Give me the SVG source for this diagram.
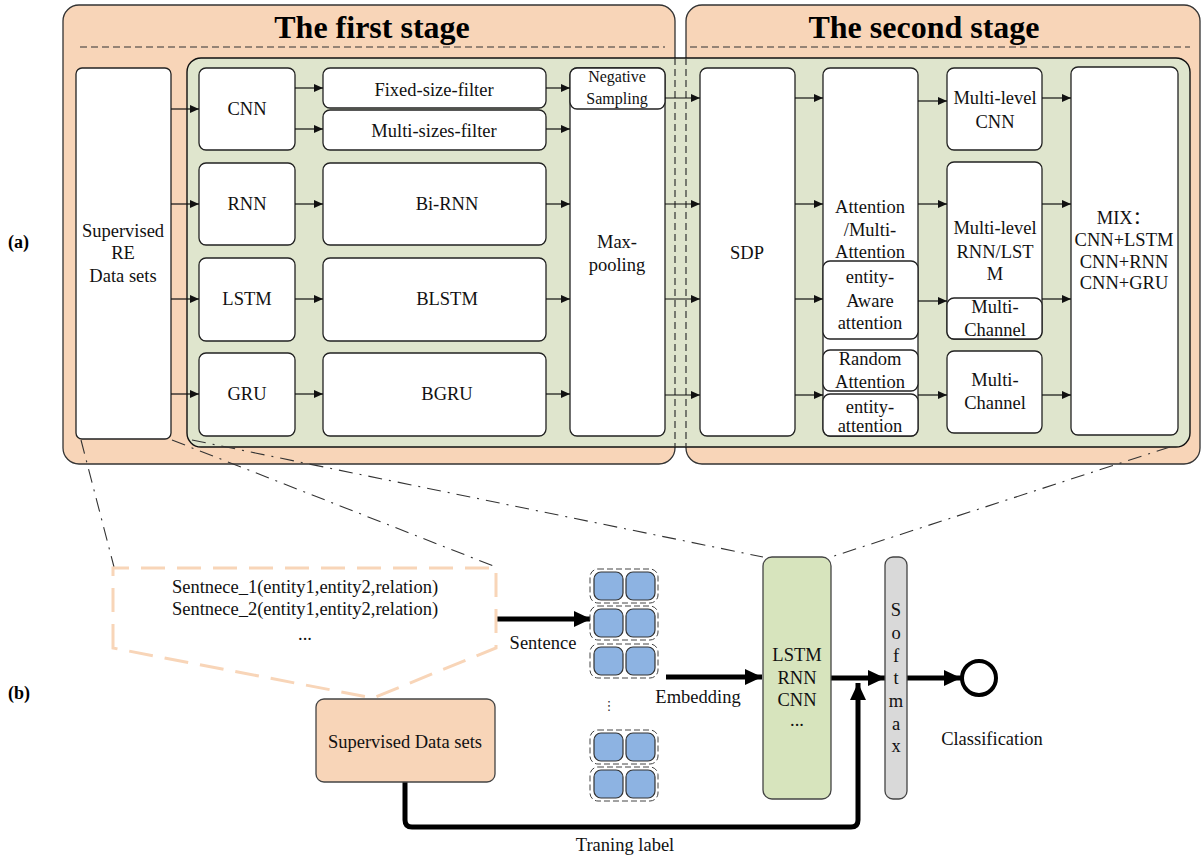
<svg xmlns="http://www.w3.org/2000/svg" width="1202" height="857" viewBox="0 0 1202 857">
<defs>
<style>
.box{fill:#fff;stroke:#222;stroke-width:1.3}
.t{font-family:"Liberation Serif","Times New Roman","Noto Sans CJK SC",serif;font-size:18.5px;fill:#111;text-anchor:middle}
.ts{font-family:"Liberation Serif","Times New Roman",serif;font-size:16px;fill:#111;text-anchor:middle}
.title{font-family:"Liberation Serif","Times New Roman",serif;font-size:32px;font-weight:bold;fill:#000;text-anchor:middle}
.lab{font-family:"Liberation Serif","Times New Roman",serif;font-size:18px;font-weight:bold;fill:#000}
.ln{stroke:#111;stroke-width:1.2;fill:none;marker-end:url(#a)}
.thick{stroke:#000;stroke-width:5;fill:none;marker-end:url(#A)}
.dd{stroke:#333;stroke-width:1.1;fill:none;stroke-dasharray:14 7 2 7}
.dash{stroke:#333;stroke-width:1.2;fill:none;stroke-dasharray:7 4}
.blue{fill:#8db3e2;stroke:#333;stroke-width:1.2}
.row{fill:#fff;stroke:#444;stroke-width:1;stroke-dasharray:6 3}
</style>
<marker id="a" markerUnits="userSpaceOnUse" markerWidth="9" markerHeight="8" refX="9" refY="4" orient="auto"><path d="M0,0 L9,4 L0,8 z" fill="#111"/></marker>
<marker id="A" markerUnits="userSpaceOnUse" markerWidth="17" markerHeight="16" refX="17" refY="8" orient="auto"><path d="M0,0 L17,8 L0,16 z" fill="#000"/></marker>
</defs>
<rect width="1202" height="857" fill="#fff"/>

<g id="stage1">
<rect x="63" y="5" width="612" height="459" rx="16" fill="#f8d5b8" stroke="#333" stroke-width="1.3"/>
<line x1="80" y1="47" x2="665" y2="47" class="dash"/>
<text x="372" y="38" class="title">The first stage</text>
</g>
<g id="stage2">
<rect x="686" y="5" width="514" height="459" rx="16" fill="#f8d5b8" stroke="#333" stroke-width="1.3"/>
<line x1="690" y1="47" x2="1190" y2="47" class="dash"/>
<text x="924" y="38" class="title">The second stage</text>
</g>
<g id="green">
<rect x="187" y="58" width="1003" height="389" rx="14" fill="#dfe5cd" stroke="#111" stroke-width="1.4"/>
<line x1="675" y1="58" x2="675" y2="447" class="dash"/>
<line x1="686" y1="58" x2="686" y2="447" class="dash"/>
</g>

<text x="8" y="248" class="lab">(a)</text>
<text x="8" y="699" class="lab">(b)</text>

<g id="supRE"><rect x="76" y="68" width="95" height="371" rx="6" class="box"/>
<text class="t"><tspan x="123" y="237">Supervised</tspan><tspan x="123" y="259">RE</tspan><tspan x="123" y="282">Data sets</tspan></text></g>

<g id="cnn"><rect x="199" y="68" width="96" height="82" rx="7" class="box"/><text x="247" y="115" class="t">CNN</text></g>
<g id="rnn"><rect x="199" y="163" width="96" height="82" rx="7" class="box"/><text x="247" y="210" class="t">RNN</text></g>
<g id="lstm"><rect x="199" y="258" width="96" height="83" rx="7" class="box"/><text x="247" y="305" class="t">LSTM</text></g>
<g id="gru"><rect x="199" y="353" width="96" height="83" rx="7" class="box"/><text x="247" y="400" class="t">GRU</text></g>

<g id="fixed"><rect x="323" y="68" width="223" height="40" rx="7" class="box"/><text x="434" y="96" class="t">Fixed-size-filter</text></g>
<g id="multisizes"><rect x="323" y="110" width="223" height="40" rx="7" class="box"/><text x="434" y="137" class="t">Multi-sizes-filter</text></g>
<g id="birnn"><rect x="323" y="163" width="223" height="82" rx="7" class="box"/><text x="447" y="210" class="t">Bi-RNN</text></g>
<g id="blstm"><rect x="323" y="258" width="223" height="83" rx="7" class="box"/><text x="447" y="305" class="t">BLSTM</text></g>
<g id="bgru"><rect x="323" y="353" width="223" height="83" rx="7" class="box"/><text x="447" y="400" class="t">BGRU</text></g>

<g id="maxpool"><rect x="570" y="68" width="95" height="368" rx="7" class="box"/>
<text class="t"><tspan x="617" y="248">Max-</tspan><tspan x="617" y="271">pooling</tspan></text></g>
<g id="negsamp"><rect x="570" y="68" width="95" height="41" rx="7" class="box"/>
<text class="ts"><tspan x="617" y="82">Negative</tspan><tspan x="617" y="104">Sampling</tspan></text></g>

<g id="sdp"><rect x="700" y="68" width="95" height="368" rx="7" class="box"/><text x="747" y="259" class="t">SDP</text></g>

<g id="attn"><rect x="823" y="68" width="95" height="368" rx="7" class="box"/>
<text class="t"><tspan x="870" y="213">Attention</tspan><tspan x="870" y="236">/Multi-</tspan><tspan x="870" y="258">Attention</tspan></text></g>
<g id="entityaware"><rect x="823" y="261" width="95" height="78" rx="7" class="box"/>
<text class="t"><tspan x="870" y="283">entity-</tspan><tspan x="870" y="307">Aware</tspan><tspan x="870" y="329">attention</tspan></text></g>
<g id="random"><rect x="823" y="350" width="95" height="41" rx="7" class="box"/>
<text class="t"><tspan x="870" y="365">Random</tspan><tspan x="870" y="388">Attention</tspan></text></g>
<g id="entityatt"><rect x="823" y="394" width="95" height="42" rx="7" class="box"/>
<text class="t"><tspan x="870" y="413">entity-</tspan><tspan x="870" y="432">attention</tspan></text></g>

<g id="mlcnn"><rect x="947" y="68" width="95" height="82" rx="7" class="box"/>
<text class="t"><tspan x="995" y="104">Multi-level</tspan><tspan x="995" y="128">CNN</tspan></text></g>
<g id="mlrnn"><rect x="947" y="162" width="95" height="177" rx="7" class="box"/>
<text class="t"><tspan x="995" y="234">Multi-level</tspan><tspan x="995" y="258">RNN/LST</tspan><tspan x="995" y="280">M</tspan></text></g>
<g id="mc1"><rect x="947" y="298" width="95" height="41" rx="7" class="box"/>
<text class="t"><tspan x="995" y="313">Multi-</tspan><tspan x="995" y="336">Channel</tspan></text></g>
<g id="mc2"><rect x="947" y="351" width="95" height="82" rx="7" class="box"/>
<text class="t"><tspan x="995" y="386">Multi-</tspan><tspan x="995" y="409">Channel</tspan></text></g>

<g id="mix"><rect x="1071" y="67" width="107" height="368" rx="7" class="box"/>
<text class="t"><tspan x="1124" y="224">MIX：</tspan><tspan x="1124" y="246">CNN+LSTM</tspan><tspan x="1124" y="268">CNN+RNN</tspan><tspan x="1124" y="289">CNN+GRU</tspan></text></g>

<g id="connectors">
<line class="ln" x1="171" y1="109" x2="199" y2="109"/>
<line class="ln" x1="171" y1="204" x2="199" y2="204"/>
<line class="ln" x1="171" y1="299" x2="199" y2="299"/>
<line class="ln" x1="171" y1="394" x2="199" y2="394"/>
<line class="ln" x1="295" y1="88" x2="323" y2="88"/>
<line class="ln" x1="295" y1="129" x2="323" y2="129"/>
<line class="ln" x1="295" y1="204" x2="323" y2="204"/>
<line class="ln" x1="295" y1="299" x2="323" y2="299"/>
<line class="ln" x1="295" y1="394" x2="323" y2="394"/>
<line class="ln" x1="546" y1="88" x2="570" y2="88"/>
<line class="ln" x1="546" y1="129" x2="570" y2="129"/>
<line class="ln" x1="546" y1="204" x2="570" y2="204"/>
<line class="ln" x1="546" y1="299" x2="570" y2="299"/>
<line class="ln" x1="546" y1="394" x2="570" y2="394"/>
<line class="ln" x1="665" y1="98" x2="700" y2="98"/>
<line class="ln" x1="665" y1="204" x2="700" y2="204"/>
<line class="ln" x1="665" y1="299" x2="700" y2="299"/>
<line class="ln" x1="665" y1="395" x2="700" y2="395"/>
<line class="ln" x1="795" y1="98" x2="823" y2="98"/>
<line class="ln" x1="795" y1="204" x2="823" y2="204"/>
<line class="ln" x1="795" y1="299" x2="823" y2="299"/>
<line class="ln" x1="795" y1="395" x2="823" y2="395"/>
<line class="ln" x1="918" y1="101" x2="947" y2="101"/>
<line class="ln" x1="918" y1="204" x2="947" y2="204"/>
<line class="ln" x1="918" y1="301" x2="947" y2="301"/>
<line class="ln" x1="918" y1="395" x2="947" y2="395"/>
<line class="ln" x1="1042" y1="98" x2="1071" y2="98"/>
<line class="ln" x1="1042" y1="204" x2="1071" y2="204"/>
<line class="ln" x1="1042" y1="299" x2="1071" y2="299"/>
<line class="ln" x1="1042" y1="395" x2="1071" y2="395"/>
<line x1="81" y1="440" x2="114" y2="567" class="dd"/>
<line x1="172" y1="440" x2="496" y2="567" class="dd"/>
<line x1="192" y1="440" x2="763" y2="557" class="dd"/>
<line x1="1170" y1="447" x2="831" y2="557" class="dd"/>
<path class="thick" d="M496,619H591"/>
<path class="thick" d="M666,677H762"/>
<path class="thick" d="M831,678H885"/>
<path class="thick" d="M907,678H961"/>
<path class="thick" d="M405,782V820Q405,827 412,827H851Q858,827 858,820V683"/>
</g>

<g id="sentences">
<path d="M113,648V568H496V648L373,698Z" fill="none" stroke="#f8d5b8" stroke-width="3" stroke-dasharray="24 12"/>
<text class="t"><tspan x="305" y="593">Sentnece_1(entity1,entity2,relation)</tspan><tspan x="305" y="615">Sentnece_2(entity1,entity2,relation)</tspan><tspan x="305" y="640">...</tspan></text>
</g>

<g id="supds"><rect x="316" y="699" width="179" height="83" rx="8" fill="#f8d5b8" stroke="#444" stroke-width="1.3"/>
<text x="405" y="748" class="t">Supervised Data sets</text></g>

<text x="543" y="649" class="t">Sentence</text>
<text x="698" y="703" class="t">Embedding</text>
<text x="625" y="851" class="t">Traning label</text>
<text x="992" y="745" class="t">Classification</text>

<g id="embed">
<rect x="590" y="569" width="68" height="34" rx="8" class="row"/>
<rect x="594" y="572" width="29" height="28" rx="7" class="blue"/><rect x="626" y="572" width="29" height="28" rx="7" class="blue"/>
<rect x="590" y="606" width="68" height="34" rx="8" class="row"/>
<rect x="594" y="609" width="29" height="28" rx="7" class="blue"/><rect x="626" y="609" width="29" height="28" rx="7" class="blue"/>
<rect x="590" y="644" width="68" height="34" rx="8" class="row"/>
<rect x="594" y="647" width="29" height="28" rx="7" class="blue"/><rect x="626" y="647" width="29" height="28" rx="7" class="blue"/>
<text x="609" y="710" font-family="DejaVu Sans, sans-serif" font-size="13" fill="#333" text-anchor="middle">⋮</text>
<rect x="590" y="730" width="68" height="34" rx="8" class="row"/>
<rect x="594" y="733" width="29" height="28" rx="7" class="blue"/><rect x="626" y="733" width="29" height="28" rx="7" class="blue"/>
<rect x="590" y="767" width="68" height="34" rx="8" class="row"/>
<rect x="594" y="770" width="29" height="28" rx="7" class="blue"/><rect x="626" y="770" width="29" height="28" rx="7" class="blue"/>
</g>

<g id="model"><rect x="763" y="557" width="68" height="242" rx="9" fill="#d7e4bd" stroke="#444" stroke-width="1.3"/>
<text class="t"><tspan x="797" y="661">LSTM</tspan><tspan x="797" y="684">RNN</tspan><tspan x="797" y="706">CNN</tspan><tspan x="797" y="726">...</tspan></text></g>

<g id="softmax"><rect x="885" y="557" width="22" height="242" rx="8" fill="#d9d9d9" stroke="#444" stroke-width="1.3"/>
<text class="t"><tspan x="896" y="616">S</tspan><tspan x="896" y="639">o</tspan><tspan x="896" y="662">f</tspan><tspan x="896" y="684">t</tspan><tspan x="896" y="707">m</tspan><tspan x="896" y="730">a</tspan><tspan x="896" y="752">x</tspan></text></g>

<g id="classification"><circle cx="979" cy="678" r="17" fill="#fff" stroke="#000" stroke-width="4"/></g>
</svg>
